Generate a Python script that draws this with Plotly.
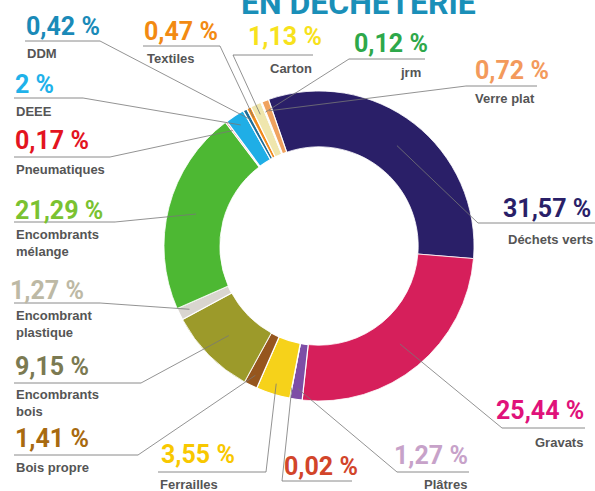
import math
import plotly.graph_objects as go

# ---------------- data ----------------
categories = ["Déchets verts", "Gravats", "Plâtres", "Piles", "Ferrailles", "Bois propre",
              "Encombrants bois", "Encombrant plastique", "Encombrants mélange", "Pneumatiques",
              "DEEE", "DDM", "Textiles", "Carton", "jrm", "Verre plat"]
values = [31.57, 25.44, 1.27, 0.02, 3.55, 1.41, 9.15, 1.27, 21.29, 0.17, 2, 0.42, 0.47, 1.13, 0.12, 0.72]
value_labels = ["31,57 %", "25,44 %", "1,27 %", "0,02 %", "3,55 %", "1,41 %", "9,15 %", "1,27 %",
                "21,29 %", "0,17 %", "2 %", "0,42 %", "0,47 %", "1,13 %", "0,12 %", "0,72 %"]
name_labels = ["Déchets verts", "Gravats", "Plâtres", "Piles", "Ferrailles", "Bois propre",
               "Encombrants<br>bois", "Encombrant<br>plastique", "Encombrants<br>mélange",
               "Pneumatiques", "DEEE", "DDM", "Textiles", "Carton", "jrm", "Verre plat"]
title_text = "EN DÉCHÈTERIE"

# ---------------- styles ----------------
W, H = 595, 491
slice_colors = ["#2a1f68", "#d61f5b", "#7d4ea6", "#8a1e2e", "#f6d21a", "#96561e", "#9c9a2a",
                "#d9d5cf", "#4db833", "#e31f2b", "#1faee6", "#1d6e98", "#f08a1c", "#efe6ad",
                "#1f9a3c", "#f0a25e"]
label_colors = ["#2a1f68", "#e0127a", "#c7a2c9", "#d2452a", "#f8c800", "#a86a10", "#7b7a52",
                "#bdb9a5", "#7ac231", "#e3141f", "#1fb2ea", "#1a8ab8", "#f28a12", "#f7e21c",
                "#2ea84a", "#f39a5c"]
name_color = "#555555"
line_color = "#8a8a8a"

CX, CY, R = 319, 246, 155
HOLE = 0.64
ROT = -19

# label layout per slice: (pct anchor, pct x, pct y, line x0, line x1, line y, join x,
#                          name anchor, name x, name y(center of first line))
layout_spec = [
    ("right", 593, 208, 478, 595, 223, 478, "right", 595, 238),
    ("right", 586, 410, 502, 585, 428, 502, "right", 585, 441),
    ("right", 470, 455, 397, 469, 472, 397, "right", 469, 483),
    ("left", 282, 466, 282, 352, 481, 282, "center", 334, 496),
    ("left", 159, 454, 158, 266, 472, 266, "left", 158, 483),
    ("left", 13, 438, 14, 138, 455, 138, "left", 14, 466),
    ("left", 13, 366, 14, 141, 383, 141, "left", 14, 393),
    ("left", 8, 290, 14, 100, 303, 100, "left", 14, 314),
    ("left", 13, 210, 14, 115, 222, 115, "left", 14, 233),
    ("left", 13, 140, 14, 110, 157, 110, "left", 14, 168),
    ("left", 13, 84, 14, 83, 98, 83, "left", 14, 110),
    ("left", 24, 27, 25, 100, 41, 100, "left", 25, 52),
    ("left", 142, 31, 143, 220, 46, 220, "left", 145, 57),
    ("left", 246, 37, 233, 313, 55, 233, "right", 314, 67),
    ("left", 352, 44, 349, 425, 59, 349, "right", 423, 71),
    ("left", 473, 70, 466, 537, 86, 466, "right", 537, 97),
]

PCT_FONT = "Roboto, sans-serif"
NAME_FONT = "Liberation Sans, Arial, sans-serif"


def px(x):
    return x / W


def py(y):
    return 1 - y / H


fig = go.Figure()
line_w = [1.2 if v < 5 else 0.8 for v in values]
fig.add_trace(go.Pie(
    labels=categories, values=values, sort=False, direction="clockwise", rotation=ROT,
    hole=HOLE, textinfo="none", hoverinfo="label+value",
    marker=dict(colors=slice_colors, line=dict(color="white", width=line_w)),
    domain=dict(x=[px(CX - R), px(CX + R)], y=[py(CY + R), py(CY - R)]),
    showlegend=False,
))

# leader lines computed from slice mid-angles
total = sum(values)
cum = 0.0
shapes = []
annotations = []
for i, v in enumerate(values):
    mid = ROT + (cum + v / 2) / total * 360
    cum += v
    rho = R * (0.93 if v < 5 else 0.82)
    ex = CX + rho * math.sin(math.radians(mid))
    ey = CY - rho * math.cos(math.radians(mid))
    (pa, pxx, pyy, lx0, lx1, ly, jx, na, nx, ny) = layout_spec[i]
    shapes.append(dict(type="line", xref="paper", yref="paper", x0=px(lx0), x1=px(lx1),
                       y0=py(ly), y1=py(ly), line=dict(color=line_color, width=1)))
    shapes.append(dict(type="line", xref="paper", yref="paper", x0=px(jx), x1=px(ex),
                       y0=py(ly), y1=py(ey), line=dict(color="#777777", width=0.8)))
    annotations.append(dict(text="<b>" + value_labels[i] + "</b>", x=px(pxx), y=py(pyy),
                            xref="paper", yref="paper", xanchor=pa, yanchor="middle",
                            showarrow=False,
                            font=dict(family=PCT_FONT, size=25, color=label_colors[i])))
    annotations.append(dict(text="<b>" + name_labels[i] + "</b>", x=px(nx), y=py(ny - 8),
                            xref="paper", yref="paper", xanchor=na, yanchor="top",
                            align=na if na != "center" else "center",
                            showarrow=False,
                            font=dict(family=NAME_FONT, size=13, color=name_color)))

annotations.append(dict(text="<b>" + title_text + "</b>", x=px(358), y=py(3),
                        xref="paper", yref="paper", xanchor="center", yanchor="middle",
                        showarrow=False,
                        font=dict(family=PCT_FONT, size=32, color="#1a8fb8")))

fig.update_layout(width=W, height=H, margin=dict(l=0, r=0, t=0, b=0),
                  paper_bgcolor="white", plot_bgcolor="white",
                  shapes=shapes, annotations=annotations)

fig.write_html("out.html", config={"displayModeBar": False},
               post_script="document.body.style.margin='0';document.body.style.padding='0';")
